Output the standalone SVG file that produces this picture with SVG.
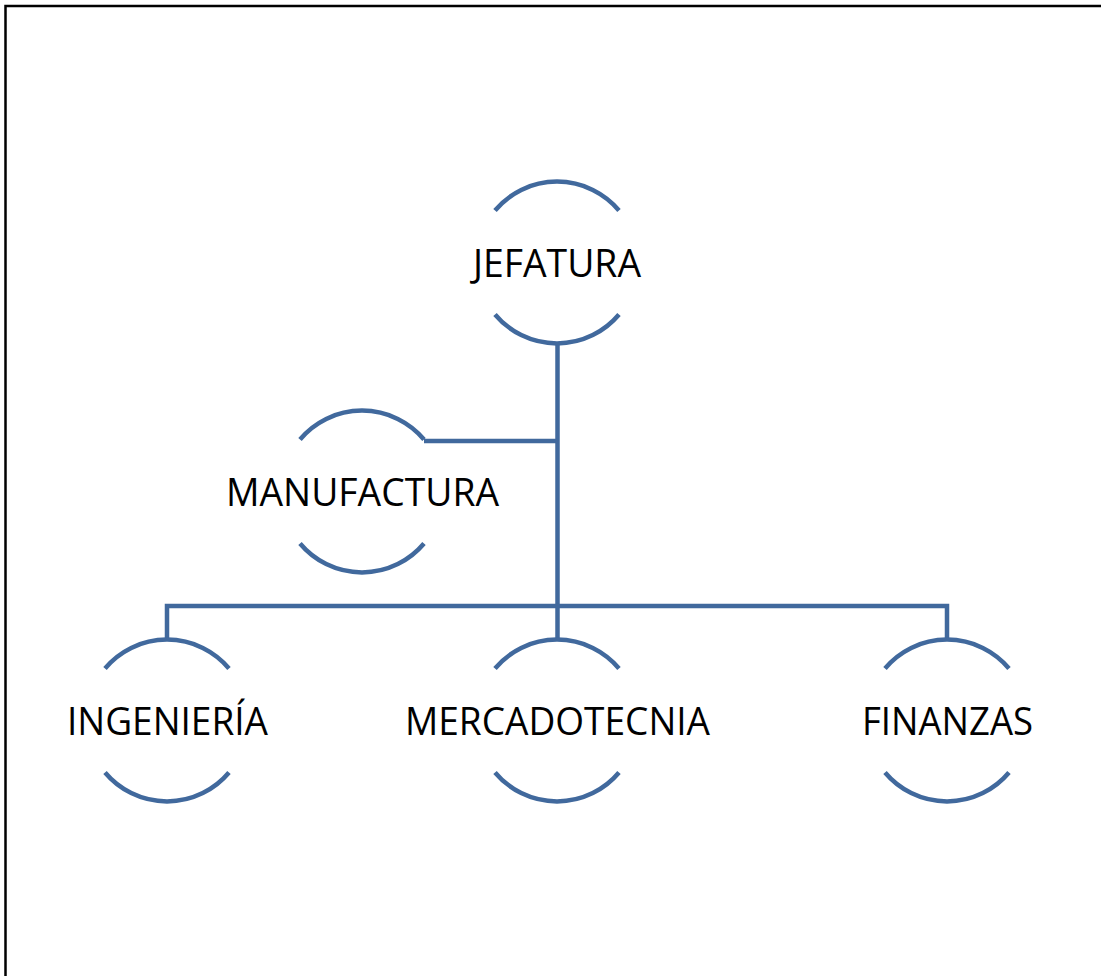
<svg xmlns="http://www.w3.org/2000/svg" width="1101" height="976" viewBox="0 0 1101 976">
<style>
.arc{fill:none;stroke:#41699D;stroke-width:4.5}
.con{fill:none;stroke:#41699D;stroke-width:4.5;stroke-linejoin:miter}
.lbl{font-family:"Open Sans","Liberation Sans",sans-serif;font-size:39px;fill:#000;text-anchor:middle}
</style>
<rect x="0" y="0" width="1101" height="976" fill="#fff"/>
<path d="M5.5 976 V6 H1101" fill="none" stroke="#000" stroke-width="2.5"/>
<g id="connectors">
<path class="con" d="M557.5 343 V606"/>
<path class="con" d="M424 441 H557.5"/>
<path class="con" d="M167 640 V606 H947 V640"/>
<path class="con" d="M557.5 606 V640"/>
</g>
<g id="jefatura">
<path class="arc" d="M495 210.5 A81 81 0 0 1 619 210.5"/>
<path class="arc" d="M495 314.5 A81 81 0 0 0 619 314.5"/>
<text class="lbl" x="557" y="276.5" textLength="168" lengthAdjust="spacingAndGlyphs">JEFATURA</text>
</g>
<g id="manufactura">
<path class="arc" d="M300 439.5 A81 81 0 0 1 424 439.5"/>
<path class="arc" d="M300 543.5 A81 81 0 0 0 424 543.5"/>
<text class="lbl" x="362.5" y="505.5" textLength="273" lengthAdjust="spacingAndGlyphs">MANUFACTURA</text>
</g>
<g id="ingenieria">
<path class="arc" d="M105 668.5 A81 81 0 0 1 229 668.5"/>
<path class="arc" d="M105 772.5 A81 81 0 0 0 229 772.5"/>
<text class="lbl" x="167.5" y="734.5" textLength="201" lengthAdjust="spacingAndGlyphs">INGENIERÍA</text>
</g>
<g id="mercadotecnia">
<path class="arc" d="M495 668.5 A81 81 0 0 1 619 668.5"/>
<path class="arc" d="M495 772.5 A81 81 0 0 0 619 772.5"/>
<text class="lbl" x="557.5" y="734.5" textLength="305" lengthAdjust="spacingAndGlyphs">MERCADOTECNIA</text>
</g>
<g id="finanzas">
<path class="arc" d="M885 668.5 A81 81 0 0 1 1009 668.5"/>
<path class="arc" d="M885 772.5 A81 81 0 0 0 1009 772.5"/>
<text class="lbl" x="947.5" y="734.5" textLength="171" lengthAdjust="spacingAndGlyphs">FINANZAS</text>
</g>
</svg>
